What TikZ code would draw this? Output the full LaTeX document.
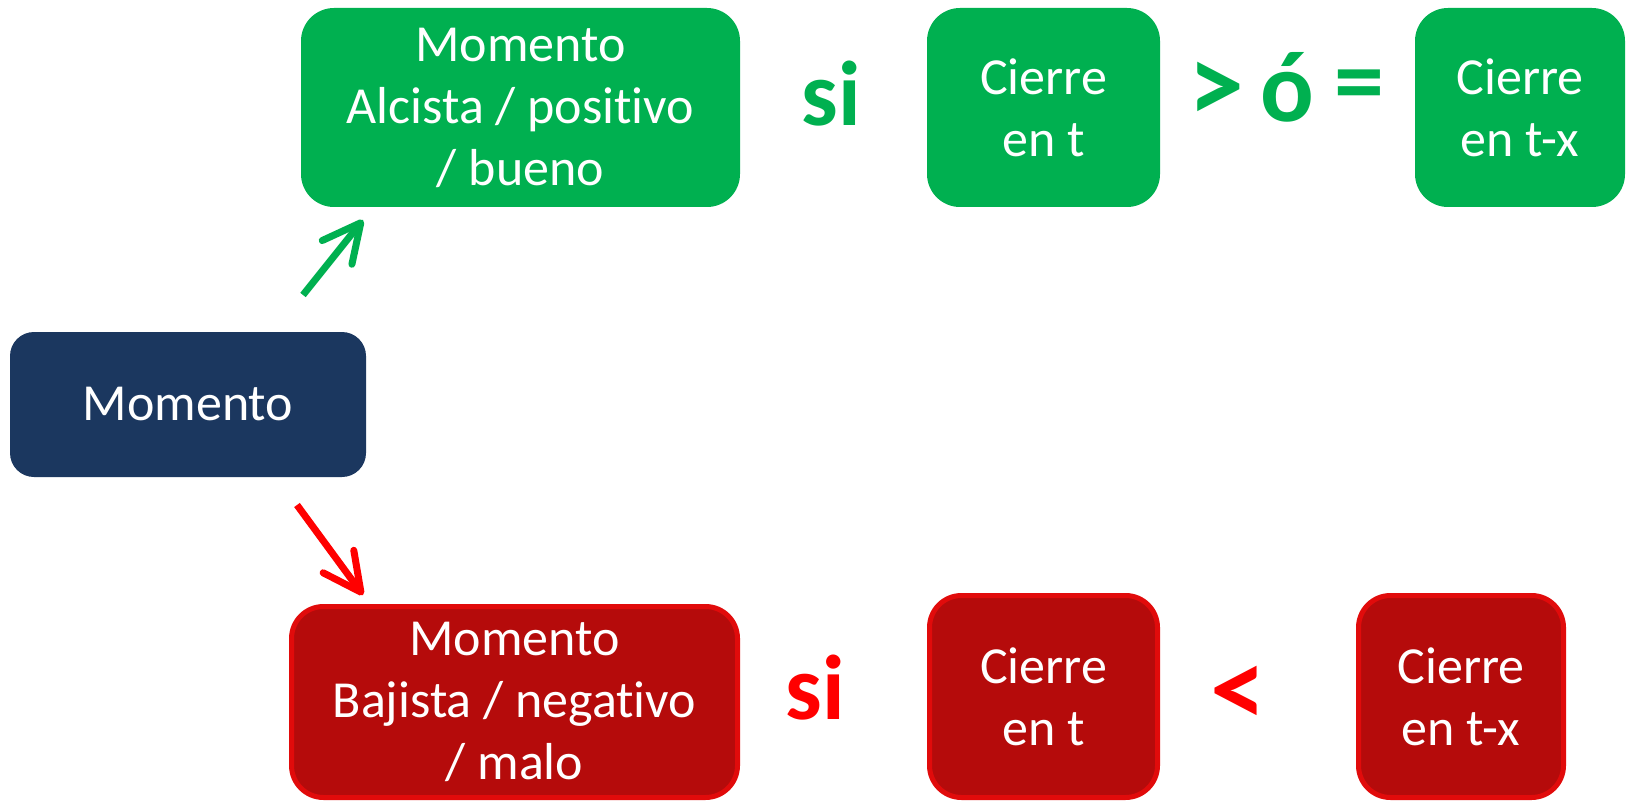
\documentclass[tikz,border=0pt]{standalone}
\usepackage{fontspec}
\setmainfont{Carlito}[RawFeature={-liga;-clig;-dlig;-calt}]
\usetikzlibrary{arrows.meta}
\definecolor{gbox}{HTML}{00B050}
\definecolor{dblue}{HTML}{1B375F}
\definecolor{rfill}{HTML}{B50B0B}
\definecolor{rline}{HTML}{E10B0B}
\definecolor{rtext}{HTML}{FF0000}
\tikzset{
  box/.style={inner sep=0pt, align=center, text=white,
    font=\fontsize{52}{62}\selectfont},
  greenbox/.style={box, fill=gbox, rounded corners=33pt},
  bluebox/.style={box, fill=dblue, rounded corners=24pt},
  redbox/.style={box, fill=rfill, draw=rline, line width=5pt, rounded corners=32pt},
  biglabel/.style={inner sep=0pt, anchor=center, font=\fontsize{92}{96}\selectfont\bfseries},
  bigsym/.style={inner sep=0pt, anchor=center, font=\fontsize{112}{116}\selectfont\bfseries},
  barrow/.style={line width=7pt, -{Straight Barb[length=38pt,width=38pt,round]}}
}
\begin{document}
\begin{tikzpicture}[x=1pt,y=-1pt]
\useasboundingbox (0,0) rectangle (1629,802);
% top row
\node[greenbox, minimum width=439pt, minimum height=199pt] (g1) at (520.5,107.5) {Momento\\Alcista / posit{}ivo\\/ bueno};
\node[greenbox, minimum width=233pt, minimum height=199pt] (g2) at (1043.5,107.5) {Cierre\\en t};
\node[greenbox, minimum width=210pt, minimum height=199pt] (g3) at (1520,107.5) {Cierre\\en t-x};
\node[biglabel, text=gbox] (gsi) at (831.5,93.5) {si};
\node[bigsym, text=gbox] (ggt) at (1216,92.5) {>};
\node[bigsym, text=gbox, font=\fontsize{100}{104}\selectfont\bfseries] (gor) at (1287.5,87.5) {ó};
\node[bigsym, text=gbox, font=\fontsize{100}{104}\selectfont\bfseries] (geq) at (1359,92) {=};
% middle
\node[bluebox, minimum width=356pt, minimum height=145pt] (m0) at (188,404.5) {Momento};
% bottom row
\node[redbox, minimum width=446pt, minimum height=191pt] (r1) at (514.5,702) {Momento\\Bajista / negat{}ivo\\/ malo};
\node[redbox, minimum width=228pt, minimum height=202pt] (r2) at (1043.5,696.5) {Cierre\\en t};
\node[redbox, minimum width=205pt, minimum height=202pt] (r3) at (1461,696.5) {Cierre\\en t-x};
\node[biglabel, text=rtext] (rsi) at (815.5,687.5) {si};
\node[bigsym, text=rtext] (rlt) at (1238.5,696.5) {<};
% arrows
\coordinate (gs) at (303,295);
\coordinate (ge) at (363,220);
\coordinate (rs) at (297,505);
\coordinate (re) at (363,595);
\draw[barrow, draw=gbox] (gs) -- (ge);
\draw[barrow, draw=rtext] (rs) -- (re);
\end{tikzpicture}
\end{document}
